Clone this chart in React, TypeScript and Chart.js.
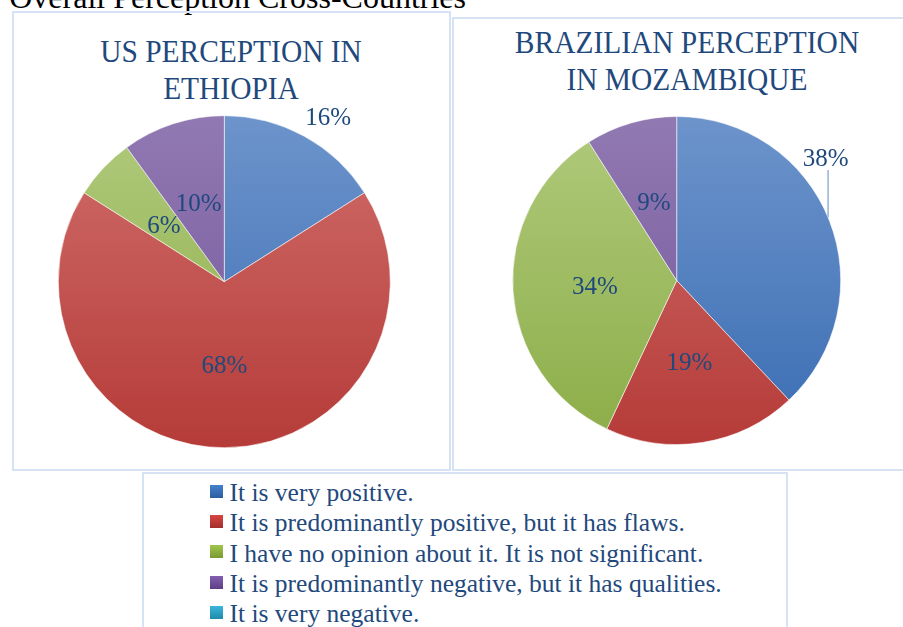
import React, { useEffect, useRef } from "react";
import { Chart, registerables } from "chart.js";

Chart.register(...registerables);

// ---------- data ----------
const categories = [
  "It is very positive.",
  "It is predominantly positive, but it has flaws.",
  "I have no opinion about it. It is not significant.",
  "It is predominantly negative, but it has qualities.",
  "It is very negative.",
];
const usEthiopiaValues = [16, 68, 6, 10, 0];
const brazilMozambiqueValues = [38, 19, 34, 9, 0];
const usEthiopiaTitle = ["US PERCEPTION IN", "ETHIOPIA"];
const brazilMozambiqueTitle = ["BRAZILIAN PERCEPTION", "IN MOZAMBIQUE"];
const captionText = ": Overall Perception Cross-Countries";

// ---------- styles ----------
const sliceTop = ["#6d94cb", "#d06e6b", "#b0ca7c", "#9179b2", "#6ec0d6"];
const sliceBottom = ["#3a6db3", "#b53b38", "#8cad48", "#72559a", "#3a9bb6"];
const keyTop = ["#4581cc", "#d84542", "#a0c64e", "#845fb0", "#3cb6dc"];
const keyBottom = ["#2c5d9d", "#a42e2b", "#7a9a33", "#5d3f86", "#1f8aa8"];
const textBlue = "#1f497d";
const boxBorder = "#d6e3f4";
const serif = "'Liberation Serif', 'Times New Roman', serif";

const pieLabelPlugin = {
  id: "pieLabels",
  afterDatasetsDraw(chart: any, _args: any, opts: any) {
    const ctx = chart.ctx as CanvasRenderingContext2D;
    const meta = chart.getDatasetMeta(0);
    const data = chart.data.datasets[0].data as number[];
    ctx.save();
    ctx.font = `${opts.size}px ${serif}`;
    ctx.fillStyle = opts.color;
    ctx.textAlign = "center";
    ctx.textBaseline = "alphabetic";
    meta.data.forEach((el: any, i: number) => {
      const v = data[i];
      if (!v) return;
      const { x, y, startAngle, endAngle, outerRadius } = el.getProps(
        ["x", "y", "startAngle", "endAngle", "outerRadius"],
        true
      );
      const nudge = opts.nudges ? opts.nudges[i] : undefined;
      const mid = (startAngle + endAngle) / 2 + (nudge ? (nudge.dAngle * Math.PI) / 180 : 0);
      const f = nudge ? nudge.r : opts.inside;
      const lx = x + Math.cos(mid) * outerRadius * f;
      const ly = y + Math.sin(mid) * outerRadius * f;
      ctx.fillText(`${v}%`, lx, ly + opts.size * 0.338);
      if (nudge && nudge.leader) {
        const lineX = lx + 2.3;
        const dx = lineX - x;
        const yEdge = y - Math.sqrt(Math.max(outerRadius * outerRadius - dx * dx, 0));
        ctx.strokeStyle = opts.leaderColor;
        ctx.lineWidth = 1.5;
        ctx.beginPath();
        ctx.moveTo(lineX, ly + 12.5);
        ctx.lineTo(lineX, yEdge);
        ctx.stroke();
      }
    });
    ctx.restore();
  },
};

type PieProps = {
  values: number[];
  left: number;
  top: number;
  width: number;
  height: number;
  padding: { left: number; top: number; right: number; bottom: number };
  nudges: Record<number, { r: number; dAngle: number; leader?: boolean }>;
};

function PieCanvas(props: PieProps) {
  const ref = useRef<HTMLCanvasElement | null>(null);
  useEffect(() => {
    if (!ref.current) return;
    const chart = new Chart(ref.current, {
      type: "pie",
      data: {
        labels: categories,
        datasets: [
          {
            data: props.values,
            backgroundColor: (c: any) => {
              const area = c.chart.chartArea;
              const i = c.dataIndex;
              if (!area) return sliceTop[i];
              const g = c.chart.ctx.createLinearGradient(0, area.top, 0, area.bottom);
              g.addColorStop(0, sliceTop[i]);
              g.addColorStop(1, sliceBottom[i]);
              return g;
            },
            borderColor: "rgba(255,255,255,0.55)",
            borderWidth: (c: any) => (c.raw === 0 ? 0 : 1),
          },
        ],
      },
      options: {
        responsive: false,
        maintainAspectRatio: false,
        animation: false,
        devicePixelRatio: 1,
        layout: { padding: props.padding },
        plugins: {
          legend: { display: false },
          tooltip: { enabled: false },
          title: { display: false },
          pieLabels: {
            size: 25,
            color: textBlue,
            inside: 0.5,
            nudges: props.nudges,
            leaderColor: "#95b3d7",
          },
        } as any,
      },
      plugins: [pieLabelPlugin as any],
    });
    return () => chart.destroy();
  }, []);
  return (
    <canvas
      ref={ref}
      width={props.width}
      height={props.height}
      style={{
        position: "absolute",
        left: props.left,
        top: props.top,
        width: props.width,
        height: props.height,
      }}
    />
  );
}

function Title({ lines, cx, top }: { lines: string[]; cx: number; top: number }) {
  return (
    <div
      style={{
        position: "absolute",
        left: cx - 300,
        top,
        width: 600,
        textAlign: "center",
        fontFamily: serif,
        fontSize: 32,
        lineHeight: "37.4px",
        color: textBlue,
        transform: "scaleX(0.92)",
        transformOrigin: "center top",
        whiteSpace: "nowrap",
      }}
    >
      {lines.map((l, i) => (
        <div key={i}>{l}</div>
      ))}
    </div>
  );
}

export default function App() {
  return (
    <div
      style={{
        position: "absolute",
        left: 0,
        top: 0,
        width: 903,
        height: 627,
        overflow: "hidden",
        background: "#ffffff",
      }}
    >
      {/* caption, cut at the top of the page */}
      <div
        style={{
          position: "absolute",
          right: 903 - 466,
          top: -19,
          fontFamily: serif,
          fontSize: 32,
          lineHeight: "32px",
          color: "#000",
          whiteSpace: "nowrap",
        }}
      >
        {captionText}
      </div>

      {/* chart frames */}
      <div
        style={{
          position: "absolute",
          left: 12,
          top: 11,
          width: 439,
          height: 460,
          border: `2px solid ${boxBorder}`,
          boxSizing: "border-box",
        }}
      />
      <div
        style={{
          position: "absolute",
          left: 452,
          top: 17,
          width: 500,
          height: 454,
          border: `2px solid ${boxBorder}`,
          boxSizing: "border-box",
        }}
      />

      <Title lines={usEthiopiaTitle} cx={231} top={32.5} />
      <Title lines={brazilMozambiqueTitle} cx={687} top={24} />

      <PieCanvas
        values={usEthiopiaValues}
        left={13}
        top={13}
        width={436}
        height={456}
        padding={{ left: 44.8, top: 102.2, right: 58.2, bottom: 20.8 }}
        nudges={{ 0: { r: 1.175, dAngle: 3.4 } }}
      />
      <PieCanvas
        values={brazilMozambiqueValues}
        left={454}
        top={19}
        width={449}
        height={449}
        padding={{ left: 58.2, top: 97, right: 61.8, bottom: 23 }}
        nudges={{ 0: { r: 1.178, dAngle: -17.9, leader: true } }}
      />

      {/* legend */}
      <div
        style={{
          position: "absolute",
          left: 142,
          top: 471.5,
          width: 646,
          height: 200,
          border: `2px solid ${boxBorder}`,
          boxSizing: "border-box",
          background: "#fff",
        }}
      />
      {categories.map((c, i) => {
        const baseline = 501.5 + 30.2 * i;
        return (
          <React.Fragment key={c}>
            <div
              style={{
                position: "absolute",
                left: 210,
                top: baseline - 16.5,
                width: 13,
                height: 13,
                background: `linear-gradient(${keyTop[i]}, ${keyBottom[i]})`,
              }}
            />
            <div
              style={{
                position: "absolute",
                left: 229.5,
                top: baseline - 23.4,
                fontFamily: serif,
                fontSize: 25.5,
                lineHeight: "30px",
                color: textBlue,
                whiteSpace: "nowrap",
              }}
            >
              {c}
            </div>
          </React.Fragment>
        );
      })}
    </div>
  );
}
